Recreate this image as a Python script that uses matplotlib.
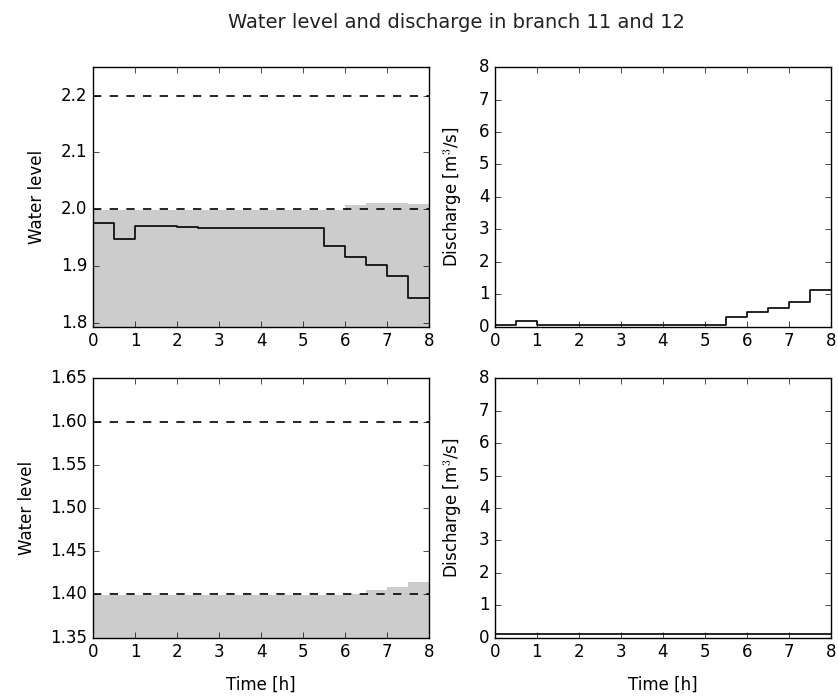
import matplotlib
matplotlib.use('Agg')
import matplotlib.pyplot as plt
import numpy as np

plt.style.use('classic')
plt.rcParams['axes.labelpad'] = 10.5

# time steps (h), half-hour intervals
t = np.arange(0, 8.5, 0.5)

# branch 11
wl_11 = [1.975, 1.948, 1.970, 1.970, 1.968, 1.966, 1.967, 1.967, 1.967, 1.967, 1.967,
         1.935, 1.916, 1.901, 1.882, 1.844]
bed_11 = [1.999, 1.999, 1.999, 1.999, 1.999, 1.999, 1.999, 1.999, 1.999, 1.999, 1.999,
          1.999, 2.007, 2.010, 2.011, 2.009]
q_11 = [0.04, 0.18, 0.06, 0.06, 0.06, 0.06, 0.06, 0.06, 0.06, 0.06, 0.06,
        0.30, 0.45, 0.58, 0.76, 1.12]
limits_11 = [2.2, 2.0]

# branch 12
bed_12 = [1.399, 1.399, 1.399, 1.399, 1.399, 1.399, 1.399, 1.399, 1.399, 1.399, 1.399,
          1.399, 1.401, 1.405, 1.409, 1.415]
q_12 = [0.1] * 16
limits_12 = [1.60, 1.40]

def stepped(v):
    # repeat last value so the step reaches t=8
    return np.append(v, v[-1])

fig, axes = plt.subplots(2, 2, figsize=(8.38, 7.0), dpi=100, facecolor='white')
fig.subplots_adjust(left=0.111, right=0.9916, top=0.904, bottom=0.089,
                    wspace=0.196, hspace=0.2)
fig.suptitle('Water level and discharge in branch 11 and 12', fontsize=14,
             x=0.545, y=0.982, color='#222222')

# water level branch 11
ax = axes[0, 0]
ax.fill_between(t, 0, stepped(bed_11), step='post', color='#cccccc', lw=0)
ax.step(t, stepped(wl_11), where='post', color='k', lw=1.2)
for lim in limits_11:
    ax.axhline(lim, color='k', ls='--', lw=1.2, dashes=(6, 6))
ax.set_xlim(0, 8)
ax.set_ylim(1.793, 2.25)
ax.set_yticks([1.8, 1.9, 2.0, 2.1, 2.2])
ax.set_ylabel('Water level')

# discharge branch 11
ax = axes[0, 1]
ax.step(t, stepped(q_11), where='post', color='k', lw=1.2)
ax.set_xlim(0, 8)
ax.set_ylim(0, 8)
ax.set_ylabel('Discharge [m$^3$/s]')

# water level branch 12
ax = axes[1, 0]
ax.fill_between(t, 0, stepped(bed_12), step='post', color='#cccccc', lw=0)
for lim in limits_12:
    ax.axhline(lim, color='k', ls='--', lw=1.2, dashes=(6, 6))
ax.set_xlim(0, 8)
ax.set_ylim(1.35, 1.65)
ax.set_yticks([1.35, 1.40, 1.45, 1.50, 1.55, 1.60, 1.65])
ax.set_ylabel('Water level')
ax.set_xlabel('Time [h]')

# discharge branch 12
ax = axes[1, 1]
ax.step(t, stepped(q_12), where='post', color='k', lw=1.2)
ax.set_xlim(0, 8)
ax.set_ylim(0, 8)
ax.set_ylabel('Discharge [m$^3$/s]')
ax.set_xlabel('Time [h]')

for ax in axes.flat:
    ax.set_xticks(range(9))
    ax.tick_params(labelsize=12)

fig.savefig('out.png', dpi=100, facecolor='white')
